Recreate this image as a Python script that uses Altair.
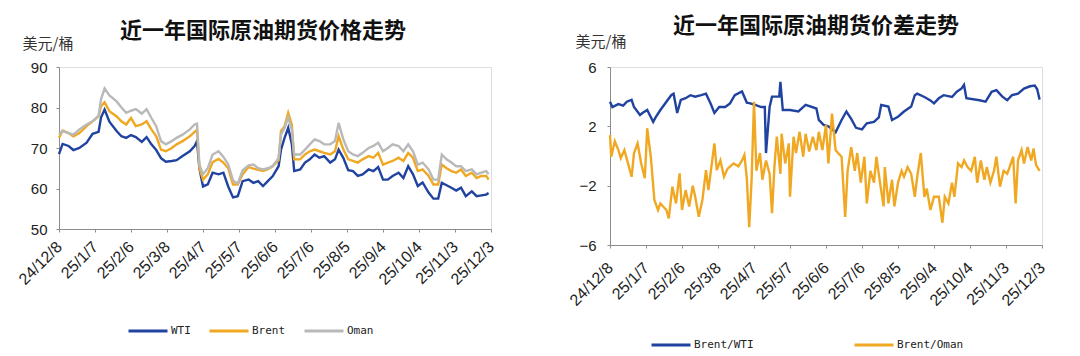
import json
import altair as alt
import pandas as pd

# ---------------- data ----------------
tick_days = [0, 30, 60, 90, 120, 150, 180, 210, 240, 270, 300, 330, 360]
tick_labels = ["24/12/8", "25/1/7", "25/2/6", "25/3/8", "25/4/7", "25/5/7", "25/6/6",
               "25/7/6", "25/8/5", "25/9/4", "25/10/4", "25/11/3", "25/12/3"]

# days since 2024-12-08
price_day = [0, 3, 8, 12, 17, 23, 28, 33, 35, 38,
             42, 48, 52, 56, 60, 64, 69, 73, 77, 81,
             85, 89, 94, 98, 103, 109, 113, 115, 117, 120,
             124, 128, 133, 137, 141, 145, 149, 153, 158, 162,
             166, 170, 174, 178, 183, 185, 188, 191, 194, 196,
             201, 205, 209, 213, 217, 221, 226, 230, 233, 237,
             241, 245, 249, 253, 258, 262, 266, 270, 274, 278,
             283, 287, 291, 295, 299, 303, 308, 312, 316, 319,
             323, 327, 331, 335, 339, 344, 348, 352, 356, 358]

wti = [68.5, 71, 70.5, 69.5, 70, 71.3, 73.5, 74, 77.5, 79.5,
       76.5, 74.2, 72.9, 72.5, 73.2, 72.7, 71.5, 72.7, 70.9, 69.5,
       67.5, 66.6, 66.8, 67, 68, 69.2, 70.5, 71.7, 65, 60.5,
       61, 63.9, 63.5, 63.9, 60.5, 57.8, 58.1, 61.8, 62.2, 61.4,
       61.8, 60.6, 61.8, 63, 65.5, 69.6, 72.5, 75, 71, 64.3,
       64.7, 66.4, 67.2, 68.4, 67.6, 68, 66.4, 67.2, 69.6, 67.5,
       64.5, 64.3, 63.1, 63.5, 64.7, 64.3, 65.3, 62.2, 62.2, 63.1,
       63.9, 62.6, 65.5, 63.5, 60.6, 61.5, 59, 57.5, 57.5, 61.4,
       60.8, 60.2, 59.5, 60.2, 58.1, 59.3, 58.1, 58.3, 58.5, 58.9]

brent = [72.5, 74.3, 73.7, 72.9, 73.7, 75.4, 76.6, 77.8, 80.3, 81.3,
         79.1, 77.8, 76.6, 75.8, 77.4, 75.4, 75.8, 76.6, 74.6, 72.9,
         69.6, 69.2, 70, 70.9, 71.7, 72.9, 74, 74.5, 65, 62.2,
         63.5, 66.5, 67.3, 66.4, 65, 61, 61, 63.5, 65.3, 64.9,
         64.6, 64.3, 64.8, 65.5, 67, 74.2, 75.4, 78.7, 75.8, 67.2,
         67.2, 68.4, 69.2, 69.6, 69.2, 68.8, 68.4, 69.2, 72.9, 69.6,
         67.2, 66.8, 66.4, 67.2, 68, 67.6, 68.8, 65.9, 66.4, 66.8,
         67.6, 66.8, 68.8, 67.6, 64.3, 64.7, 63.1, 61, 61, 65.9,
         65, 64.3, 63.9, 64.7, 63.1, 63.9, 62.6, 63.1, 63.1, 62.2]

oman = [73.3, 74.2, 73.7, 73.3, 74.6, 75.8, 76.6, 78, 82, 84.7,
        83, 81.5, 80, 78.7, 79.2, 79.6, 78.5, 79.6, 77.4, 75.4,
        71.7, 70.9, 71.7, 72.5, 73.3, 74.6, 75.8, 76, 65.9, 63.5,
        65, 68.4, 69.2, 67.8, 66, 62, 61.2, 64.5, 65.7, 65.9,
        65, 64.7, 65, 65.5, 67.5, 73.3, 75, 77.5, 74.6, 68.4,
        68.4, 69.6, 70.9, 72.1, 71.7, 70.9, 70.9, 71.7, 76.2, 72.1,
        69.2, 68.4, 68, 68.8, 70, 70.5, 71.3, 69.2, 70, 70.9,
        70.5, 69.2, 70.9, 69.2, 65.9, 66.4, 64.7, 62.2, 62.2, 68.4,
        67.2, 66.4, 65.5, 65.5, 64.3, 64.7, 63.5, 63.9, 64.3, 63.5]

bw_day = [0, 2, 7, 11, 14, 18, 20, 25, 27, 31, 36, 38, 42, 47, 51, 53, 56, 59, 63, 67,
          71, 76, 80, 84, 87, 91, 96, 100, 104, 110, 114, 116, 121, 126, 129, 130, 133, 135,
          141, 142, 144, 150, 157, 163, 172, 174, 178, 182, 188, 193, 197, 201, 205, 210,
          214, 220, 224, 226, 232, 235, 240, 245, 251, 254, 256, 262, 267, 270, 274, 278,
          285, 289, 293, 295, 297, 308, 313, 318, 322, 327, 331, 335, 340, 345, 350, 354,
          356, 358]
brent_wti = [3.66, 3.3, 3.5, 3.4, 3.66, 3.78, 3.3, 2.76, 2.9, 3.1, 2.3, 2.6, 3.1, 3.66, 4.1,
             4.2, 2.9, 3.78, 3.9, 4.1, 4.0, 4.1, 4.2, 3.5, 2.9, 3.3, 3.3, 3.55, 4.1, 4.35,
             3.6, 3.57, 3.45, 3.3, 3.3, 0.2, 3.3, 4.0, 4.0, 5.0, 3.1, 3.1, 3.0, 3.44, 3.2,
             2.43, 2.1, 2.0, 1.6, 2.43, 3.0, 2.5, 1.9, 1.8, 2.2, 2.3, 2.6, 3.44, 3.33, 2.43,
             2.65, 3.0, 3.33, 4.1, 4.2, 3.98, 3.75, 3.55, 3.89, 4.1, 3.98, 4.33, 4.55, 4.79,
             3.89, 3.76, 3.66, 4.33, 4.44, 4.0, 3.76, 4.1, 4.2, 4.55, 4.7, 4.75, 4.5, 3.8]

bo_day = [0, 1, 4, 7, 9, 12, 15, 18, 20, 23, 26, 29, 31, 34, 37, 40, 42, 47, 49, 52,
          55, 58, 60, 63, 66, 69, 71, 74, 77, 80, 82, 87, 89, 92, 95, 98, 103, 107, 110, 112,
          114, 116, 118, 120, 122, 125, 127, 130, 133, 135, 137, 139, 142, 143, 146, 149, 150, 153, 155, 158,
          161, 163, 166, 169, 172, 174, 177, 180, 182, 185, 188, 190, 193, 196, 198, 201, 204, 206, 209, 212,
          214, 217, 220, 222, 225, 228, 229, 232, 235, 237, 240, 243, 245, 248, 251, 254, 256, 259, 262, 264,
          267, 270, 274, 277, 279, 282, 285, 287, 290, 293, 295, 298, 301, 304, 306, 309, 312, 314, 317, 320,
          322, 325, 328, 331, 333, 336, 338, 340, 343, 345, 348, 351, 353, 355, 358]
brent_oman = [1.41, -0.05, 1.0, 0.4, -0.14, 0.4, -0.5, -1.4, 0.18, 0.85, -0.5, -1.5, 1.87, -0.05, -2.97, -3.64, -3.2, -3.64, -4.2, -2.07,
              -3.2, -1.17, -3.64, -2.3, -3.4, -2.0, -2.75, -4.1, -2.97, -0.95, -2.3, 0.85, -0.95, -0.3, -1.4, -0.85, -0.5, -0.7, -0.3, 0.07,
              -1.5, -4.8, -1.6, 3.66, -1.0, 0.2, -1.6, -0.3, -1.2, -3.85, -0.75, 1.3, -1.2, 1.5, -0.5, 0.85, -2.75, 1.3, 0.2, 1.63,
              -0.05, 1.5, 0.3, 1.3, 0.4, 1.63, 0.4, 2.09, -0.5, 2.86, 0.4, 0.2, -0.05, -4.1, -1.0, 0.6, -1.0, 0.2, -1.8, -0.05,
              -3.2, -1.0, -1.8, -0.05, -1.8, -3.4, -0.75, -3.2, -1.6, -3.4, -1.8, -1.0, -1.4, -0.75, -1.2, -2.75, -1.4, 0.2, -2.75, -2.2,
              -3.64, -2.75, -2.75, -4.5, -2.75, -3.2, -1.8, -2.75, -0.5, -0.75, -0.3, -0.75, -1.0, -0.05, -1.8, -0.3, -1.6, -0.75, -1.8, -1.0,
              -0.05, -2.07, -1.0, -1.2, -0.75, -0.05, -3.2, -0.3, 0.4, -0.5, 0.6, -0.3, 0.5, -0.6, -1.0]

price_series = ["WTI", "Brent", "Oman"]
price_colors = ["#2143A0", "#F0A823", "#B9B9B9"]
spread_series = ["Brent/WTI", "Brent/Oman"]
spread_colors = ["#2143A0", "#F0A823"]

# ---------------- tables ----------------
price_df = pd.DataFrame({
    "day": price_day * 3,
    "value": wti + brent + oman,
    "series": ["WTI"] * len(wti) + ["Brent"] * len(brent) + ["Oman"] * len(oman),
})
spread_df = pd.DataFrame({
    "day": bw_day + bo_day,
    "value": brent_wti + brent_oman,
    "series": ["Brent/WTI"] * len(brent_wti) + ["Brent/Oman"] * len(brent_oman),
})

label_expr = f"{json.dumps(tick_labels)}[indexof({json.dumps(tick_days)}, datum.value)]"
CJK = "Noto Sans CJK SC"
NUM = "Liberation Sans"


def x_axis(pad):
    return alt.X(
        "day:Q",
        scale=alt.Scale(domain=[0, 360], nice=False, zero=False),
        axis=alt.Axis(
            values=tick_days, labelExpr=label_expr, title=None, grid=False,
            labelAngle=-45, labelAlign="right", labelBaseline="middle",
            labelFont=NUM, labelFontSize=16, labelColor="#222", labelPadding=pad,
            labelOverlap=False, labelBound=False, labelFlush=False,
            domainColor="#8c8c8c", tickColor="#8c8c8c", tickSize=3,
        ),
    )


def legend(x, y, pad):
    return alt.Legend(
        orient="none", legendX=x, legendY=y, direction="horizontal", title=None,
        symbolType="stroke", symbolSize=1520, symbolStrokeWidth=3, clipHeight=12,
        labelFont="DejaVu Sans Mono", labelFontSize=11, labelColor="#222",
        labelOffset=2, columnPadding=pad,
    )


left = alt.Chart(price_df).mark_line(strokeWidth=2.4).encode(
    x=x_axis(12),
    y=alt.Y(
        "value:Q",
        scale=alt.Scale(domain=[50, 90], nice=False, zero=False),
        axis=alt.Axis(
            values=[50, 60, 70, 80, 90], grid=False, title="美元/桶",
            titleAngle=0, titleX=-37, titleY=-19, titleAlign="left",
            titleBaseline="alphabetic", titleFont=CJK, titleFontSize=15,
            titleFontWeight="normal", titleColor="#333",
            labelFont=NUM, labelFontSize=15, labelColor="#222", labelPadding=9,
            domainColor="#8c8c8c", tickColor="#8c8c8c", tickSize=3,
        ),
    ),
    color=alt.Color("series:N",
                    scale=alt.Scale(domain=price_series, range=price_colors),
                    sort=price_series, legend=legend(68, 258, 17)),
    order=alt.Order("day:Q"),
).properties(
    width=432, height=162,
    title=alt.TitleParams(
        text="近一年国际原油期货价格走势", font=CJK, fontSize=22, fontWeight="bold",
        color="#111", anchor="middle", dx=-12, frame="group", offset=-24,
        baseline="alphabetic",
    ),
)

right = alt.Chart(spread_df).mark_line(strokeWidth=2.4).encode(
    x=x_axis(17),
    y=alt.Y(
        "value:Q",
        scale=alt.Scale(domain=[-6, 6], nice=False, zero=False),
        axis=alt.Axis(
            values=[-6, -2, 2, 6], grid=False, title="美元/桶",
            titleAngle=0, titleX=-35, titleY=-21, titleAlign="left",
            titleBaseline="alphabetic", titleFont=CJK, titleFontSize=15,
            titleFontWeight="normal", titleColor="#333",
            labelFont=NUM, labelFontSize=15, labelColor="#222", labelPadding=11,
            domainColor="#8c8c8c", tickColor="#8c8c8c", tickSize=3,
        ),
    ),
    color=alt.Color("series:N",
                    scale=alt.Scale(domain=spread_series, range=spread_colors),
                    sort=spread_series, legend=legend(40, 272, 99)),
    order=alt.Order("day:Q"),
).properties(
    width=432, height=178,
    title=alt.TitleParams(
        text="近一年国际原油期货价差走势", font=CJK, fontSize=22, fontWeight="bold",
        color="#111", anchor="middle", dx=-10, frame="group", offset=-21,
        baseline="alphabetic",
    ),
)

chart = alt.hconcat(left, right, spacing=68).resolve_scale(color="independent").properties(
    padding={"left": 7, "top": 6, "right": 0, "bottom": 0},
).configure_view(stroke=None).configure(background="white")

chart.save("out.html", embed_options={"renderer": "svg", "actions": False})
